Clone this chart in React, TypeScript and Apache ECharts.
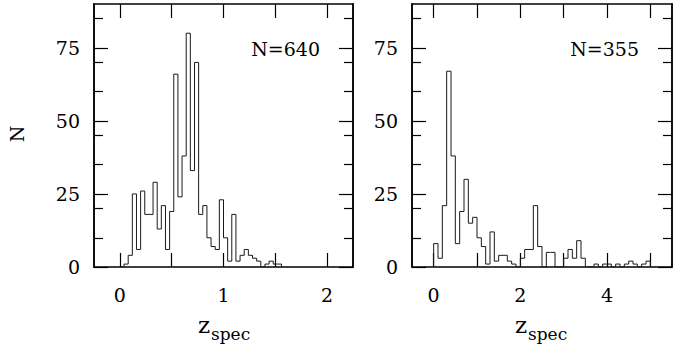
import { useEffect, useRef } from "react";
import * as echarts from "echarts";

// ---- data ----
const leftBinStart = 0;
const leftBinWidth = 0.04;
const leftCounts = [
  0, 1, 4, 25, 6, 26, 18, 18, 29, 13, 21, 6, 19, 66, 24, 38, 80, 33, 70, 18,
  21, 10, 7, 6, 23, 10, 2, 18, 2, 4, 6, 4, 3, 2, 0, 1, 2, 1, 1,
];
const rightBinStart = 0;
const rightBinWidth = 0.1;
const rightCounts = [
  8, 3, 21, 67, 38, 8, 19, 30, 15, 17, 10, 7, 1, 12, 2, 4, 4, 2, 1, 0,
  3, 6, 6, 21, 7, 0, 5, 5, 0, 0, 3, 6, 3, 9, 3, 0, 0, 1, 0, 1,
  1, 0, 1, 0, 1, 2, 1, 0, 1, 2,
];
const leftXRange = [-0.25, 2.25];
const rightXRange = [-0.5, 5.5];
const yRange = [0, 90];
const leftXTicks = [0, 0.5, 1, 1.5, 2];
const leftXLabels = [0, 1, 2];
const rightXTicks = [0, 1, 2, 3, 4, 5];
const rightXLabels = [0, 2, 4];
const yMajor = [0, 25, 50, 75];
const yMinor = [10, 20, 35, 45, 60, 70, 85];
const leftNote = "N=640";
const rightNote = "N=355";
const yTitle = "N";
const xTitleMain = "z";
const xTitleSub = "spec";

const FONT = "DejaVu Serif";

function stepData(start: number, w: number, counts: number[]) {
  const d: number[][] = [[start, 0]];
  counts.forEach((c, i) => d.push([+(start + i * w).toFixed(4), c]));
  d.push([+(start + counts.length * w).toFixed(4), 0]);
  return d;
}

const frameLine = { show: true, onZero: false, lineStyle: { color: "#000", width: 1.5 } };

function xAxes(gridIndex: number, range: number[], ticks: number[], labels: number[]) {
  const base = {
    type: "value",
    gridIndex,
    min: range[0],
    max: range[1],
    axisLine: frameLine,
    splitLine: { show: false },
    axisTick: {
      show: true,
      inside: true,
      length: 14,
      customValues: ticks,
      lineStyle: { color: "#000", width: 1.2 },
    },
  };
  return [
    {
      ...base,
      position: "bottom",
      axisLabel: {
        show: true,
        customValues: labels,
        margin: 18,
        color: "#000",
        fontFamily: FONT,
        fontSize: 19,
      },
    },
    { ...base, position: "top", axisLabel: { show: false } },
  ];
}

function yAxes(gridIndex: number) {
  const mk = (pos: string, vals: number[], len: number, labels: boolean) => ({
    type: "value",
    gridIndex,
    min: yRange[0],
    max: yRange[1],
    position: pos,
    axisLine: frameLine,
    splitLine: { show: false },
    axisTick: {
      show: true,
      inside: true,
      length: len,
      customValues: vals,
      lineStyle: { color: "#000", width: 1.2 },
    },
    axisLabel: labels
      ? {
          show: true,
          customValues: yMajor,
          margin: 14,
          color: "#000",
          fontFamily: FONT,
          fontSize: 19,
        }
      : { show: false },
  });
  return [
    mk("left", yMajor, 14, true),
    mk("left", yMinor, 9, false),
    mk("right", yMajor, 14, false),
    mk("right", yMinor, 9, false),
  ];
}

export default function App() {
  const ref = useRef<HTMLDivElement>(null);
  useEffect(() => {
    if (!ref.current) return;
    const chart = echarts.init(ref.current, null, { renderer: "svg" });
    const lineStyle = { color: "#1a1a1a", width: 1 };
    chart.setOption({
      animation: false,
      backgroundColor: "#fff",
      grid: [
        { left: 94, top: 4, width: 259, height: 263 },
        { left: 412, top: 4, width: 260, height: 263 },
      ],
      xAxis: [
        ...xAxes(0, leftXRange, leftXTicks, leftXLabels),
        ...xAxes(1, rightXRange, rightXTicks, rightXLabels),
      ],
      yAxis: [...yAxes(0), ...yAxes(1)],
      series: [
        {
          type: "line",
          xAxisIndex: 0,
          yAxisIndex: 0,
          step: "end",
          symbol: "none",
          lineStyle,
          data: stepData(leftBinStart, leftBinWidth, leftCounts),
        },
        {
          type: "line",
          xAxisIndex: 2,
          yAxisIndex: 4,
          step: "end",
          symbol: "none",
          lineStyle,
          data: stepData(rightBinStart, rightBinWidth, rightCounts),
        },
      ],
      graphic: [
        {
          type: "text",
          x: 320,
          y: 48.5,
          style: { text: leftNote, fontFamily: FONT, fontSize: 19, fill: "#000", align: "right", verticalAlign: "middle" },
        },
        {
          type: "text",
          x: 639,
          y: 48.5,
          style: { text: rightNote, fontFamily: FONT, fontSize: 19, fill: "#000", align: "right", verticalAlign: "middle" },
        },
        {
          type: "text",
          x: 17,
          y: 134,
          rotation: Math.PI / 2,
          style: { text: yTitle, fontFamily: FONT, fontSize: 19, fill: "#000", align: "center", verticalAlign: "middle" },
        },
        ...[198, 515].flatMap((x0) => [
          {
            type: "text",
            x: x0,
            y: 325,
            style: { text: xTitleMain, fontFamily: FONT, fontSize: 23, fill: "#000", align: "left", verticalAlign: "middle" },
          },
          {
            type: "text",
            x: x0 + 13,
            y: 333.5,
            style: { text: xTitleSub, fontFamily: FONT, fontSize: 17, fill: "#000", align: "left", verticalAlign: "middle" },
          },
        ]),
      ],
    });
    return () => chart.dispose();
  }, []);
  return (
    <div
      ref={ref}
      style={{ position: "absolute", left: 0, top: 0, width: 675, height: 350 }}
    />
  );
}
